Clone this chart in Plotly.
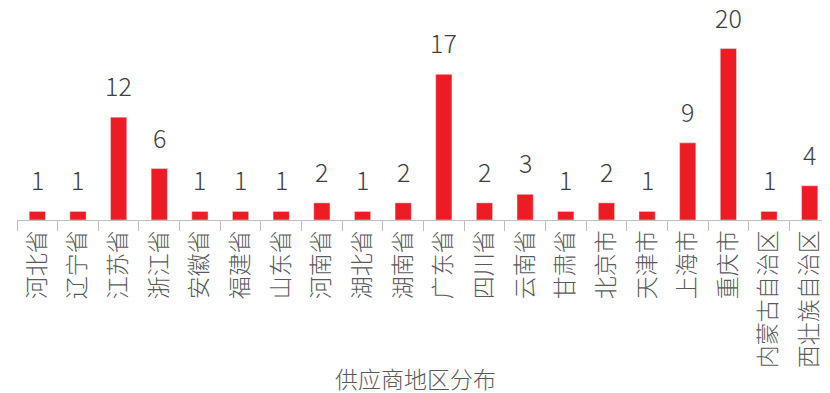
import plotly.graph_objects as go


# ---------------------------------------------------
# Data
# ---------------------------------------------------

regions = [
    "河北省", "辽宁省", "江苏省", "浙江省", "安徽省", "福建省", "山东省",
    "河南省", "湖北省", "湖南省", "广东省", "四川省", "云南省", "甘肃省",
    "北京市", "天津市", "上海市", "重庆市", "内蒙古自治区", "西壮族自治区",
]

suppliers = [1, 1, 12, 6, 1, 1, 1, 2, 1, 2, 17, 2, 3, 1, 2, 1, 9, 20, 1, 4]

FONT = "Noto Sans CJK SC"
RED = "#ED1C24"
GREY = "#595959"


# ---------------------------------------------------
# Figure
# ---------------------------------------------------

fig = go.Figure(
    go.Bar(
        x=regions,
        y=suppliers,
        marker_color=RED,
        width=0.4,
        hoverinfo="x+y",
    )
)

# value labels sit well above each bar
for name, val in zip(regions, suppliers):
    fig.add_annotation(
        x=name,
        y=val,
        text=str(val),
        showarrow=False,
        yanchor="bottom",
        yshift=12,
        font=dict(family=FONT, size=25, color="#404040", weight=300),
    )

# axis title placed by hand, overlapping the tick-label band like the original
fig.add_annotation(
    text="供应商地区分布",
    xref="paper",
    yref="paper",
    x=0.49,
    y=-0.752,
    xanchor="center",
    yanchor="middle",
    showarrow=False,
    font=dict(family=FONT, size=23, color=GREY, weight=300),
)

# page body has an 8px margin, so the figure is a bit smaller than the window
fig.update_layout(
    width=822,
    height=385,
    margin=dict(l=9, r=0, t=2, b=173),
    plot_bgcolor="white",
    paper_bgcolor="white",
    showlegend=False,
    font=dict(family=FONT, color=GREY),
    xaxis=dict(
        tickangle=-90,
        tickfont=dict(size=23, color=GREY, weight=300),
        tickson="boundaries",
        ticks="outside",
        ticklen=10,
        tickcolor="#BFBFBF",
        showline=True,
        linecolor="#BFBFBF",
        linewidth=1,
        showgrid=False,
        automargin=False,
    ),
    yaxis=dict(
        range=[0, 24.5],
        visible=False,
    ),
)

fig.write_html("out.html")
